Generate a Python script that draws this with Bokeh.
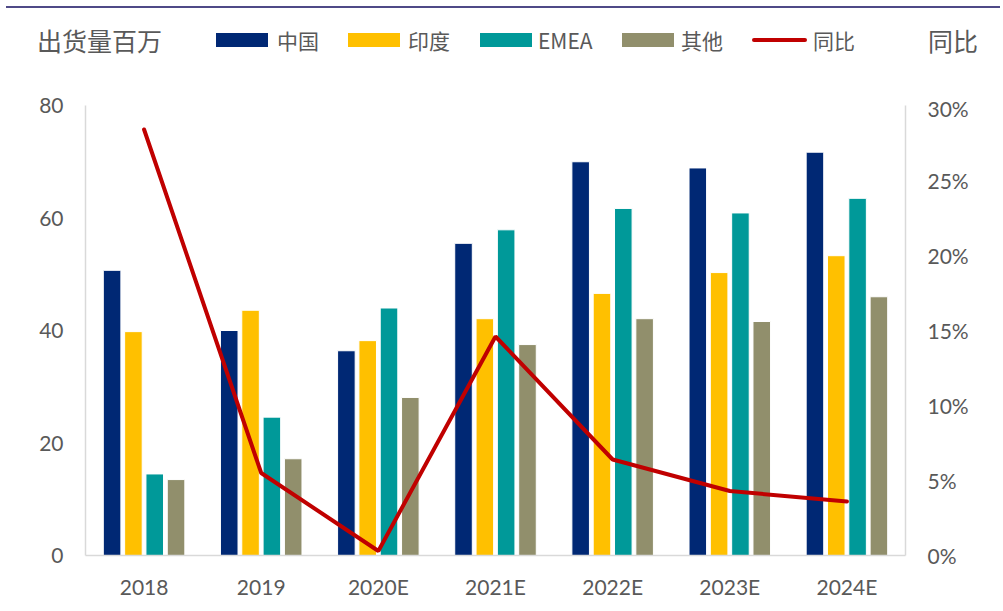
from bokeh.plotting import figure
from bokeh.layouts import column
from bokeh.models import (ColumnDataSource, FactorRange, Range1d, LinearAxis, FixedTicker,
                          NumeralTickFormatter, Div)
from bokeh.transform import dodge
from bokeh.embed import file_html
from bokeh.resources import INLINE

years = ["2018", "2019", "2020E", "2021E", "2022E", "2023E", "2024E"]
china = [50.7, 40.0, 36.4, 55.5, 70.0, 68.9, 71.7]
india = [39.8, 43.6, 38.2, 42.1, 46.6, 50.3, 53.3]
emea = [14.5, 24.6, 44.0, 57.9, 61.7, 60.9, 63.5]
other = [13.5, 17.2, 28.1, 37.5, 42.1, 41.6, 46.0]
yoy = [0.284, 0.055, 0.003, 0.146, 0.064, 0.043, 0.036]

series_names = ["中国", "印度", "EMEA", "其他", "同比"]
left_title = "出货量百万"
right_title = "同比"
left_ticks = [0, 20, 40, 60, 80]
right_ticks = [0, 0.05, 0.10, 0.15, 0.20, 0.25, 0.30]

colors = ["#002874", "#FFC000", "#009999", "#918F6C"]
LINE_C = "#C00000"
FONT = "Lato"
CJK = "Noto Sans CJK SC"
GREY = "#595959"
AX = "#d9d9d9"

W = 1000
HEAD_H = 95
MAIN_H = 510

src = ColumnDataSource(dict(year=years, china=china, india=india, emea=emea, other=other, yoy=yoy))

# ---------- header: rule, axis titles and legend ----------
sw_left = [216, 348, 480, 622]
txt_left = [277, 408, 538, 681, 813]
parts = ['<div style="position:relative;width:%dpx;height:%dpx;font-family:\'%s\';color:%s;">'
         % (W, HEAD_H, CJK, GREY)]
parts.append('<div style="position:absolute;left:6px;width:%dpx;top:6px;height:2px;'
             'background:#4f4a87;"></div>' % (W - 6))
parts.append('<span style="position:absolute;left:37px;top:25px;font-size:25px;'
             'line-height:30px;white-space:nowrap;">%s</span>' % left_title)
parts.append('<span style="position:absolute;left:928px;top:25px;font-size:25px;'
             'line-height:30px;white-space:nowrap;">%s</span>' % right_title)
for x, c in zip(sw_left, colors):
    parts.append('<div style="position:absolute;left:%dpx;top:33px;width:52px;height:14px;'
                 'background:%s;"></div>' % (x, c))
parts.append('<div style="position:absolute;left:752px;top:38px;width:55px;height:4px;'
             'border-radius:2px;background:%s;"></div>' % LINE_C)
for x, n in zip(txt_left, series_names):
    parts.append('<span style="position:absolute;left:%dpx;top:27px;font-size:21px;'
                 'line-height:26px;white-space:nowrap;">%s</span>' % (x, n))
parts.append('</div>')
head = Div(text="".join(parts), width=W, height=HEAD_H, margin=(0, 0, 0, 0))

# ---------- main chart ----------
p = figure(x_range=FactorRange(*years), y_range=Range1d(0, 80), width=W, height=MAIN_H,
           output_backend="svg", toolbar_location=None,
           min_border_left=85, min_border_right=95, min_border_top=10, min_border_bottom=50)
p.outline_line_color = None
p.xgrid.grid_line_color = None
p.ygrid.grid_line_color = None
p.background_fill_color = "white"
p.border_fill_color = "white"
p.extra_y_ranges = {"pct": Range1d(0, 0.30)}


def style_axis(ax, standoff):
    ax.axis_line_color = AX
    ax.axis_line_width = 1.5
    ax.major_tick_line_color = None
    ax.minor_tick_line_color = None
    ax.major_tick_out = 0
    ax.major_tick_in = 0
    ax.major_label_text_font = FONT
    ax.major_label_text_font_size = "21px"
    ax.major_label_text_color = GREY
    ax.major_label_standoff = standoff


p.yaxis.ticker = FixedTicker(ticks=left_ticks)
style_axis(p.yaxis[0], 22)
style_axis(p.xaxis[0], 18)

ra = LinearAxis(y_range_name="pct", ticker=FixedTicker(ticks=right_ticks),
                formatter=NumeralTickFormatter(format="0%"))
style_axis(ra, 22)
p.add_layout(ra, "right")

keys = ["china", "india", "emea", "other"]
offs = [-0.273, -0.091, 0.091, 0.273]
for k, c, o in zip(keys, colors, offs):
    p.vbar(x=dodge("year", o, range=p.x_range), top=k, width=0.15, source=src,
           fill_color=c, line_color="white", line_width=1)

p.line(x="year", y="yoy", source=src, y_range_name="pct", line_color=LINE_C,
       line_width=4, line_cap="round")

layout = column(head, p, spacing=0)

open("out.html", "w").write(file_html(layout, INLINE))
